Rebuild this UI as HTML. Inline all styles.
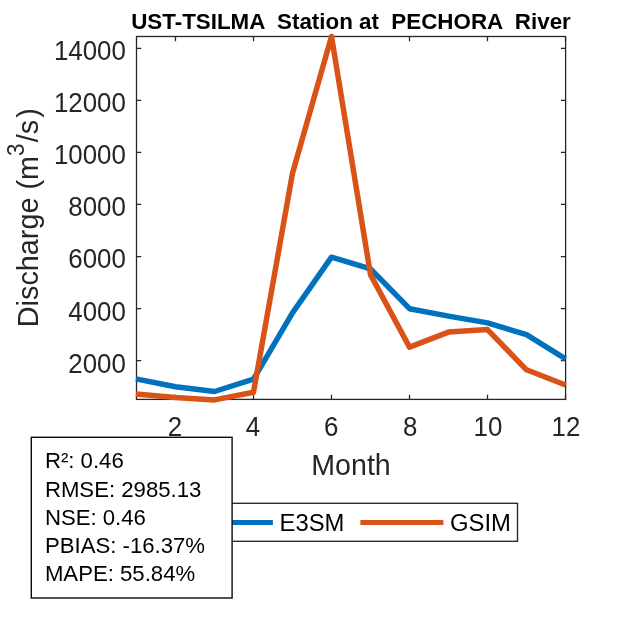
<!DOCTYPE html>
<html lang="en"><head><meta charset="utf-8"><title>UST-TSILMA Station at PECHORA River</title>
<style>html,body{margin:0;padding:0;background:#fff;}svg{display:block;}text{font-family:"Liberation Sans",Arial,Helvetica,sans-serif;}</style></head><body>
<svg width="625" height="625" viewBox="0 0 625 625">
<rect x="0" y="0" width="625" height="625" fill="#ffffff"/>
<text transform="translate(351.0,29) scale(1,1.01)" text-anchor="middle" font-size="22.38" fill="#000" font-weight="bold" xml:space="preserve" style="white-space:pre">UST-TSILMA  Station at  PECHORA  River</text>
<rect x="136.5" y="36.5" width="429.1" height="362.9" fill="none" stroke="#262626" stroke-width="1.3"/>
<path d="M175.5,399.4v-4.7M175.5,36.5v4.7M253.5,399.4v-4.7M253.5,36.5v4.7M331.5,399.4v-4.7M331.5,36.5v4.7M409.5,399.4v-4.7M409.5,36.5v4.7M487.5,399.4v-4.7M487.5,36.5v4.7M565.5,399.4v-4.7M565.5,36.5v4.7M136.5,360.6h4.7M565.6,360.6h-4.7M136.5,308.5h4.7M565.6,308.5h-4.7M136.5,256.5h4.7M565.6,256.5h-4.7M136.5,204.4h4.7M565.6,204.4h-4.7M136.5,152.4h4.7M565.6,152.4h-4.7M136.5,100.4h4.7M565.6,100.4h-4.7M136.5,48.3h4.7M565.6,48.3h-4.7" stroke="#262626" stroke-width="1.25" fill="none"/>
<g fill="none" stroke-linejoin="round" stroke-linecap="butt" stroke-width="5.5">
<polyline points="135.9,378.9 175.5,386.8 214.5,391.5 253.5,379.2 292.5,312.8 331.5,257.2 370.5,268.8 409.5,308.7 448.5,316.1 487.5,322.9 526.5,334.6 565.5,358.8" stroke="#0072bd"/>
<polyline points="135.9,394.1 175.5,397.6 214.5,399.9 253.5,392.3 292.5,173.3 331.5,36.5 370.5,274.6 409.5,347.1 448.5,332.1 487.5,329.6 526.5,369.8 565.5,385.0" stroke="#d95319"/>
</g>
<text transform="translate(175.00,436.00) scale(1,1.04)" text-anchor="middle" font-size="25.9" fill="#262626">2</text>
<text transform="translate(252.90,436.00) scale(1,1.04)" text-anchor="middle" font-size="25.9" fill="#262626">4</text>
<text transform="translate(331.30,436.00) scale(1,1.04)" text-anchor="middle" font-size="25.9" fill="#262626">6</text>
<text transform="translate(410.20,436.00) scale(1,1.04)" text-anchor="middle" font-size="25.9" fill="#262626">8</text>
<text transform="translate(488.00,436.00) scale(1,1.04)" text-anchor="middle" font-size="25.9" fill="#262626">10</text>
<text transform="translate(566.00,436.00) scale(1,1.04)" text-anchor="middle" font-size="25.9" fill="#262626">12</text>
<text transform="translate(125.90,372.55) scale(1,1.04)" text-anchor="end" font-size="25.9" fill="#262626">2000</text>
<text transform="translate(125.90,320.51) scale(1,1.04)" text-anchor="end" font-size="25.9" fill="#262626">4000</text>
<text transform="translate(125.90,268.47) scale(1,1.04)" text-anchor="end" font-size="25.9" fill="#262626">6000</text>
<text transform="translate(125.90,216.43) scale(1,1.04)" text-anchor="end" font-size="25.9" fill="#262626">8000</text>
<text transform="translate(125.90,164.39) scale(1,1.04)" text-anchor="end" font-size="25.9" fill="#262626">10000</text>
<text transform="translate(125.90,112.35) scale(1,1.04)" text-anchor="end" font-size="25.9" fill="#262626">12000</text>
<text transform="translate(125.90,60.31) scale(1,1.04)" text-anchor="end" font-size="25.9" fill="#262626">14000</text>
<text transform="translate(351.00,475.30) scale(1,1.04)" text-anchor="middle" font-size="28.6" fill="#262626">Month</text>
<text transform="translate(38.20,327.20) rotate(-90) scale(1,1.04)" text-anchor="start" font-size="28.8" fill="#262626">Discharge (m<tspan font-size="22.3" dy="-13.9">3</tspan><tspan dy="13.9" dx="1.3">/s</tspan><tspan dx="2.2">)</tspan></text>
<rect x="184" y="503.3" width="333.5" height="38" fill="#fff" stroke="#262626" stroke-width="1.35"/>
<path d="M190,522.5H272.9" stroke="#0072bd" stroke-width="5.1"/>
<path d="M360.4,522.5H443.4" stroke="#d95319" stroke-width="5.1"/>
<text transform="translate(279.60,530.90) scale(1,1.04)" text-anchor="start" font-size="23.8" fill="#000">E3SM</text>
<text transform="translate(450.10,530.90) scale(1,1.04)" text-anchor="start" font-size="23.8" fill="#000">GSIM</text>
<rect x="31.3" y="437.3" width="200.8" height="160.7" fill="#fff" stroke="#0a0a0a" stroke-width="1.4"/>
<text transform="translate(44.90,468.40) scale(1,0.985)" text-anchor="start" font-size="22.18" fill="#000">R²: 0.46</text>
<text transform="translate(44.90,496.50) scale(1,0.985)" text-anchor="start" font-size="22.18" fill="#000">RMSE: 2985.13</text>
<text transform="translate(44.90,524.60) scale(1,0.985)" text-anchor="start" font-size="22.18" fill="#000">NSE: 0.46</text>
<text transform="translate(44.90,552.70) scale(1,0.985)" text-anchor="start" font-size="22.18" fill="#000">PBIAS: -16.37%</text>
<text transform="translate(44.90,580.80) scale(1,0.985)" text-anchor="start" font-size="22.18" fill="#000">MAPE: 55.84%</text>
</svg></body></html>
